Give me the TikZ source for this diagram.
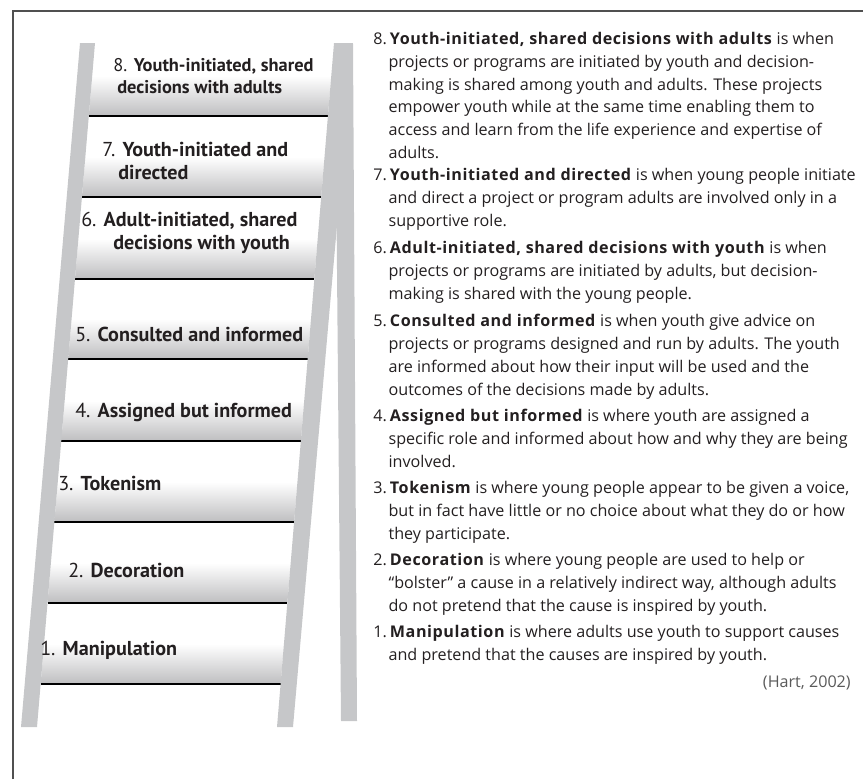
\documentclass[tikz,border=0pt]{standalone}
\usepackage{fontspec}
\setmainfont{Open Sans}[BoldFeatures={LetterSpace=3.5}]
\newfontfamily\labelfont{PT Sans}
\usetikzlibrary{positioning}

\definecolor{railgray}{RGB}{198,199,201}
\definecolor{stepgray}{RGB}{190,190,192}
\definecolor{inkblack}{RGB}{35,31,32}
\definecolor{framegray}{RGB}{80,80,80}
\definecolor{citegray}{RGB}{90,90,90}

\newcommand\descnum[1]{\makebox[12.5pt][l]{#1}}
\newcommand\deschang{\hspace*{11.5pt}}

\begin{document}
\begin{tikzpicture}[x=0.75pt,y=-0.75pt,
  rail/.style={fill=railgray},
  rungline/.style={draw=black,line width=2pt},
  steplabel/.style={anchor=west,inner sep=0pt,align=left,text=inkblack,font=\labelfont\fontsize{15.1}{16.9}\selectfont},
  desc/.style={anchor=north west,inner sep=0pt,align=left,text=inkblack,font=\fontsize{12.1}{17.1}\selectfont}]

\useasboundingbox (0,0) rectangle (863,779);
\draw[framegray,line width=1.1pt] (13,779) -- (13,11) -- (863,11);

% shaded steps and rungs
\foreach \y in {116,197,279,359,441,522,603,684}{
  \pgfmathsetmacro\ya{\y-40}
  \shade[top color=white,bottom color=stepgray]
    ({95-(\ya-43)*0.0848},\ya) -- ({334-(\ya-43)*0.0833},\ya)
    -- ({334-(\y-43)*0.0833},\y) -- ({95-(\y-43)*0.0848},\y) -- cycle;
  \draw[rungline] ({95-(\y-43)*0.0848},\y) -- ({334-(\y-43)*0.0833},\y);
}

% rails
\fill[rail] (335,44) -- (353,44) -- (357,721) -- (341,721) -- cycle;
\fill[rail] (80,43) -- (95,43) -- (37,727) -- (21,727) -- cycle;
\fill[rail] (334,43) -- (353,43) -- (293,727) -- (277,727) -- cycle;

% step labels
\node[steplabel,font=\labelfont\fontsize{13.8}{16.5}\selectfont] (s8) at (113,76) {8. \textbf{Youth-initiated, shared}\\\hspace*{3pt}\textbf{decisions with adults}};
\node[steplabel] (s7) at (102,161) {7. \textbf{Youth-initiated and}\\\hspace*{12pt}\textbf{directed}};
\node[steplabel] (s6) at (81,233) {6. \textbf{Adult-initiated, shared}\\\hspace*{24pt}\textbf{decisions with youth}};
\node[steplabel] (s5) at (75,334) {5. \textbf{Consulted and informed}};
\node[steplabel] (s4) at (75,412) {4. \textbf{Assigned but informed}};
\node[steplabel] (s3) at (58,483) {3. \textbf{Tokenism}};
\node[steplabel] (s2) at (68,570) {2. \textbf{Decoration}};
\node[steplabel] (s1) at (40,650) {1. \textbf{Manipulation}};

% descriptions
\node[desc] (d8) at (373,32) {\descnum{8.}\textbf{Youth-initiated, shared decisions with adults} is when\\
  \deschang projects or programs are initiated by youth and decision-\\
  \deschang making is shared among youth and adults. These projects\\
  \deschang empower youth while at the same time enabling them to\\
  \deschang access and learn from the life experience and expertise of\\
  \deschang adults.};
\node[desc] (d7) at (373,168) {\descnum{7.}\textbf{Youth-initiated and directed} is when young people initiate\\
  \deschang and direct a project or program adults are involved only in a\\
  \deschang supportive role.};
\node[desc] (d6) at (373,241) {\descnum{6.}\textbf{Adult-initiated, shared decisions with youth} is when\\
  \deschang projects or programs are initiated by adults, but decision-\\
  \deschang making is shared with the young people.};
\node[desc] (d5) at (373,314) {\descnum{5.}\textbf{Consulted and informed} is when youth give advice on\\
  \deschang projects or programs designed and run by adults. The youth\\
  \deschang are informed about how their input will be used and the\\
  \deschang outcomes of the decisions made by adults.};
\node[desc] (d4) at (373,409) {\descnum{4.}\textbf{Assigned but informed} is where youth are assigned a\\
  \deschang specific role and informed about how and why they are being\\
  \deschang involved.};
\node[desc] (d3) at (373,481) {\descnum{3.}\textbf{Tokenism} is where young people appear to be given a voice,\\
  \deschang but in fact have little or no choice about what they do or how\\
  \deschang they participate.};
\node[desc] (d2) at (373,553) {\descnum{2.}\textbf{Decoration} is where young people are used to help or\\
  \deschang “bolster” a cause in a relatively indirect way, although adults\\
  \deschang do not pretend that the cause is inspired by youth.};
\node[desc] (d1) at (373,625) {\descnum{1.}\textbf{Manipulation} is where adults use youth to support causes\\
  \deschang and pretend that the causes are inspired by youth.};
\node[desc,anchor=north east,text=citegray] (cite) at (851,676) {(Hart, 2002)};
\end{tikzpicture}
\end{document}
